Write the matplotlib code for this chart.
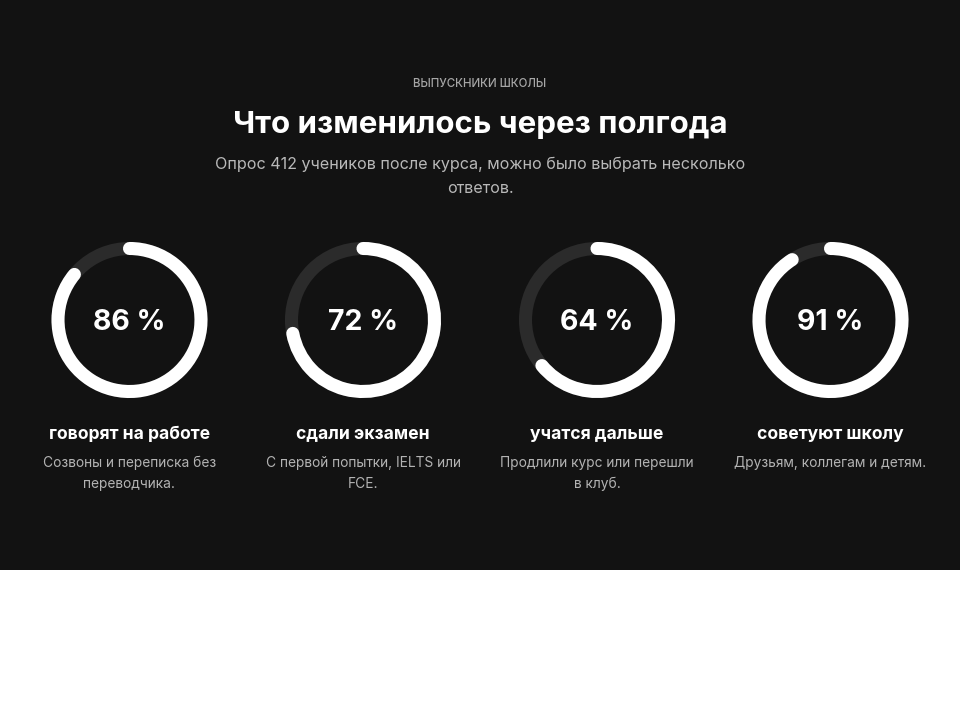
import matplotlib
matplotlib.use("Agg")
import matplotlib.pyplot as plt
from matplotlib.patches import Arc, Rectangle

plt.rcParams['font.family'] = ['Inter', 'DejaVu Sans']

# Данные
values = [86, 72, 64, 91]
labels = ["говорят на работе", "сдали экзамен", "учатся дальше", "советуют школу"]
descriptions = ["Созвоны и переписка без\nпереводчика.",
                "С первой попытки, IELTS или\nFCE.",
                "Продлили курс или перешли\nв клуб.",
                "Друзьям, коллегам и детям."]

eyebrow = "ВЫПУСКНИКИ ШКОЛЫ"
title = "Что изменилось через полгода"
subtitle = "Опрос 412 учеников после курса, можно было выбрать несколько\nответов."

BG = "#121212"
TRACK = "#2b2b2b"

fig = plt.figure(figsize=(9.6, 7.2), dpi=100)
fig.patch.set_facecolor("white")
ax = fig.add_axes([0, 0, 1, 1])
ax.set_xlim(0, 960)
ax.set_ylim(0, 720)
ax.axis("off")

# тёмная панель (в пикселях сверху до y=570)
ax.add_patch(Rectangle((0, 150), 960, 570, facecolor=BG, edgecolor="none"))

def Y(py):
    return 720 - py

ax.text(480, Y(84), eyebrow, ha="center", va="center", color="#a6a6a6",
        fontsize=8.3, fontweight="medium")
ax.text(480, Y(125), title, ha="center", va="center", color="white",
        fontsize=22.5, fontweight="bold")
ax.text(480, Y(176), subtitle, ha="center", va="center", color="#b8b8b8",
        fontsize=11.6, linespacing=1.75)

centers = [129.5, 363, 597, 830.5]
r = 71.5
lw = 9.4

for cx, v, lab, desc in zip(centers, values, labels, descriptions):
    cy = Y(320)
    track = Arc((cx, cy), 2 * r, 2 * r, theta1=0, theta2=360,
                color=TRACK, lw=lw)
    ax.add_patch(track)
    arc = Arc((cx, cy), 2 * r, 2 * r, theta1=90 - 3.6 * v, theta2=90,
              color="white", lw=lw)
    arc.set_capstyle("round")
    ax.add_patch(arc)
    ax.text(cx, Y(323), f"{v} %", ha="center", va="center", color="white",
            fontsize=20.5, fontweight="bold")
    ax.text(cx, Y(434), lab, ha="center", va="center", color="white",
            fontsize=12.6, fontweight="bold")
    ax.text(cx, Y(456), desc, ha="center", va="top", color="#b3b3b3",
            fontsize=9.9, linespacing=1.6)

fig.savefig("out.png", dpi=100, facecolor=fig.get_facecolor())
